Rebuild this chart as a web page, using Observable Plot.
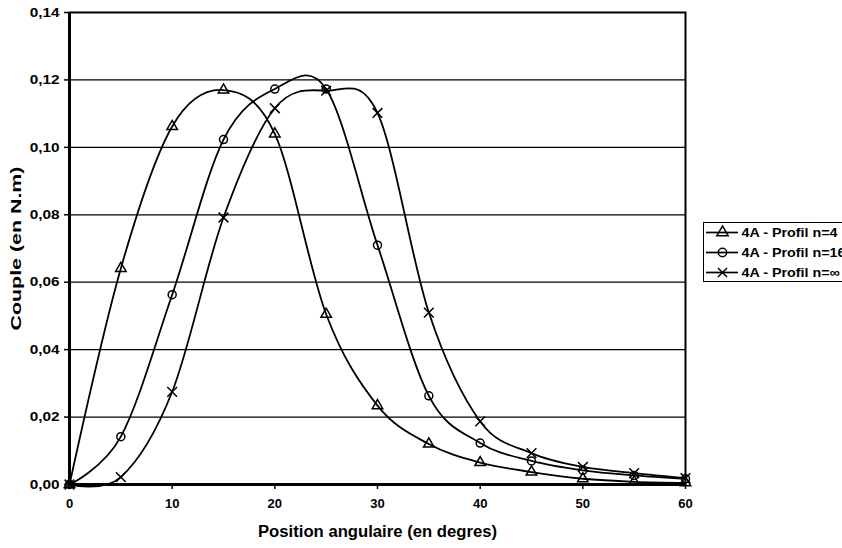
<!DOCTYPE html>
<html><head><meta charset="utf-8">
<script src="https://cdn.jsdelivr.net/npm/d3@7"></script>
<script src="https://cdn.jsdelivr.net/npm/@observablehq/plot@0.6"></script>
<style>
html,body{margin:0;padding:0;background:#fff;overflow:hidden;}
#wrap{position:relative;width:842px;height:548px;overflow:hidden;background:#fff;}
#legend{position:absolute;left:703px;top:222px;width:170px;height:60px;border:1px solid #000;box-sizing:border-box;background:#fff;}
#legend svg{display:block;overflow:visible;}
</style></head>
<body><div id="wrap"><div id="chart"></div><div id="legend"></div></div>
<script>
// ---- data ----
const angles = [0, 5, 10, 15, 20, 25, 30, 35, 40, 45, 50, 55, 60];
const couple_n4   = [0, 0.0641, 0.1062, 0.1170, 0.1040, 0.0505, 0.0234, 0.0120, 0.0065, 0.0037, 0.0017, 0.0008, 0.0005];
const couple_n16  = [0, 0.0142, 0.0563, 0.1023, 0.1173, 0.1173, 0.0710, 0.0263, 0.0123, 0.0070, 0.0042, 0.0027, 0.0017];
const couple_nInf = [0, 0.0022, 0.0275, 0.0792, 0.1116, 0.1168, 0.1102, 0.0510, 0.0187, 0.0093, 0.0052, 0.0034, 0.0019];
const seriesNames = ["4A - Profil n=4", "4A - Profil n=16", "4A - Profil n=\u221e"];
const seriesSymbols = ["triangle", "circle", "times"];
const yTicks = [0, 0.02, 0.04, 0.06, 0.08, 0.10, 0.12, 0.14];
const xTicks = [0, 10, 20, 30, 40, 50, 60];
const xTitle = "Position angulaire (en degres)";
const yTitle = "Couple (en N.m)";

const seriesValues = [couple_n4, couple_n16, couple_nInf];
const rows = [];
seriesNames.forEach((s, k) => angles.forEach((a, i) => rows.push({angle: a, couple: seriesValues[k][i], serie: s})));

const font = "'Liberation Sans', Arial, Helvetica, sans-serif";
const fmt = d => d.toFixed(2).replace(".", ",");
const baseStyle = {fontFamily: font, fontWeight: "bold", color: "#000", background: "#fff", fontSize: "13px", overflow: "visible"};

const dotMarks = seriesNames.map((s, k) => Plot.dot(rows.filter(d => d.serie === s), {
  x: "angle", y: "couple", symbol: seriesSymbols[k],
  r: k === 0 ? 3.9 : k === 1 ? 4 : 4.5,
  fill: "none", stroke: "#000", strokeWidth: 1.5
}));

const chart = Plot.plot({
  width: 842, height: 548,
  marginLeft: 69, marginRight: 157, marginTop: 12, marginBottom: 64,
  style: baseStyle,
  x: {domain: [0, 60]},
  y: {domain: [0, 0.14]},
  marks: [
    Plot.ruleY(yTicks.slice(1, -1), {stroke: "#000", strokeWidth: 1.3}),
    Plot.frame({stroke: "#000", strokeWidth: 2}),
    Plot.ruleX([0], {stroke: "#000", strokeWidth: 3}),
    Plot.ruleY([0], {stroke: "#000", strokeWidth: 3}),
    Plot.axisY({ticks: yTicks, tickFormat: fmt, tickSize: 5, tickPadding: 5, fontSize: 13, fontWeight: "bold", label: null, strokeWidth: 1.5}),
    Plot.axisX({ticks: xTicks, tickSize: 5, tickPadding: 9, fontSize: 13, fontWeight: "bold", label: null, strokeWidth: 1.5}),
    Plot.line(rows, {x: "angle", y: "couple", z: "serie", stroke: "#000", strokeWidth: 1.8, curve: "catmull-rom", tension: 0}),
    ...dotMarks,
    Plot.text([xTitle], {frameAnchor: "bottom", lineAnchor: "middle", dy: 47, fontSize: 16, fontWeight: "bold", text: d => d}),
    Plot.text([yTitle], {frameAnchor: "left", textAnchor: "middle", lineAnchor: "middle", rotate: -90, dx: -53, fontSize: 15, fontWeight: "bold", text: d => d})
  ]
});
document.getElementById("chart").appendChild(chart);

function stretch(sel, factor, fixed) {
  sel.each(function() {
    const n = this.getComputedTextLength();
    d3.select(this).attr("textLength", fixed || n * factor).attr("lengthAdjust", "spacingAndGlyphs");
  });
}
const allText = d3.select(chart).selectAll("text");
stretch(allText.filter(function() { return this.textContent === xTitle; }), 1, 239);
stretch(allText.filter(function() { return this.textContent === yTitle; }), 1, 164);
const yLabels = new Set(yTicks.map(fmt));
stretch(allText.filter(function() { return yLabels.has(this.textContent); }), 1.18);

// ---- legend (drawn with Plot too) ----
const legend = Plot.plot({
  width: 168, height: 58,
  marginLeft: 2, marginRight: 168 - 2 - 32, marginTop: 9, marginBottom: 9,
  style: baseStyle,
  x: {domain: [0, 1], axis: null},
  y: {type: "point", domain: seriesNames, axis: null, padding: 0},
  marks: [
    Plot.ruleY(seriesNames, {y: d => d, stroke: "#000", strokeWidth: 1.7}),
    Plot.dot(seriesNames, {y: d => d, frameAnchor: "middle", symbol: (d, i) => seriesSymbols[i], r: 4.2, fill: "none", stroke: "#000", strokeWidth: 1.5}),
    Plot.text(seriesNames, {y: d => d, frameAnchor: "right", textAnchor: "start", dx: 3, fontSize: 13, fontWeight: "bold", text: d => d})
  ]
});
document.getElementById("legend").appendChild(legend);
stretch(d3.select(legend).selectAll("text"), 1.1);
</script>
</body></html>
